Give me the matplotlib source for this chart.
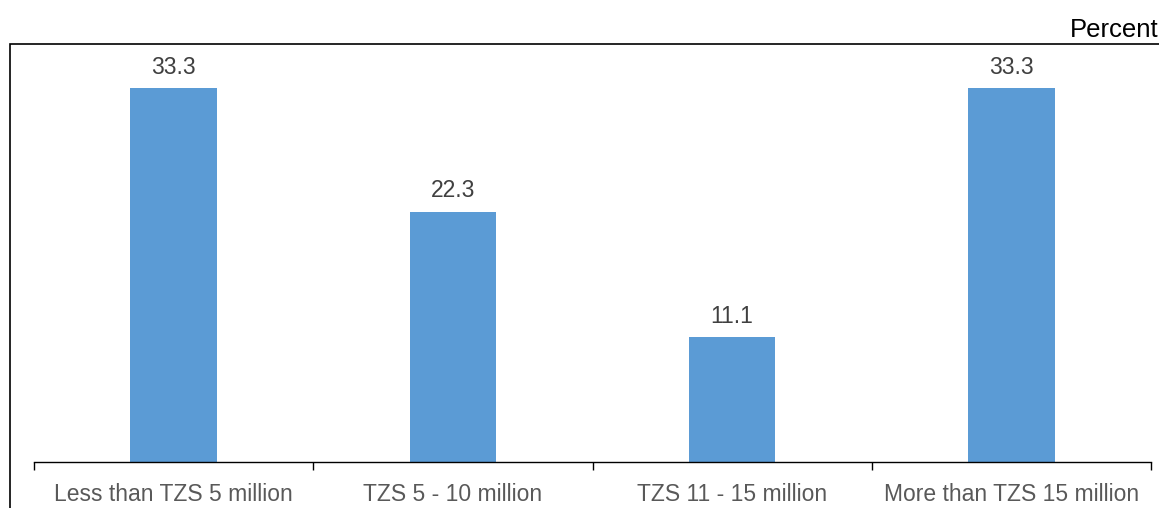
import numpy as np
import matplotlib.pyplot as plt
from matplotlib.patches import Rectangle

categories = ['Less than TZS 5 million', 'TZS 5 - 10 million',
              'TZS 11 - 15 million', 'More than TZS 15 million']
values = [33.3, 22.3, 11.1, 33.3]

plt.rcParams['font.family'] = ['Liberation Sans', 'DejaVu Sans']

W, H = 1159, 508
fig = plt.figure(figsize=(W / 100, H / 100), dpi=100)

# outer frame (cut off on the right and bottom)
fig.patches.append(Rectangle((10 / W, -0.1), 1.2, (H - 44) / H + 0.1,
                             transform=fig.transFigure, fill=False,
                             edgecolor='black', linewidth=1.2))

ax = fig.add_axes([34 / W, (H - 462) / H, (1151 - 34) / W, (462 - 69) / H])
x = np.arange(len(categories))
bars = ax.bar(x, values, width=0.31, color='#5B9BD5')
ax.set_xlim(-0.5, len(categories) - 0.5)
ax.set_ylim(0, 35)

for xi, v in zip(x, values):
    ax.text(xi, v + 0.85, f'{v:.1f}', ha='center', va='bottom',
            fontsize=16.5, color='#404040', clip_on=False)

for s in ['top', 'right', 'left']:
    ax.spines[s].set_visible(False)
ax.spines['bottom'].set_linewidth(1.0)
ax.set_yticks([])

# ticks at category boundaries, labels centred
ax.set_xticks(np.arange(-0.5, len(categories)), minor=False)
ax.set_xticklabels([])
ax.tick_params(axis='x', which='major', direction='out', length=6, width=1.0)
ax.set_xticks(x, minor=True)
ax.set_xticklabels(categories, minor=True, fontsize=16.5, color='#595959')
ax.tick_params(axis='x', which='minor', length=0, pad=15)

fig.text(1159 / W, (H - 30) / H, 'Percent', ha='right', va='center',
         fontsize=18.5, color='black')

fig.savefig('out.png', dpi=100)
